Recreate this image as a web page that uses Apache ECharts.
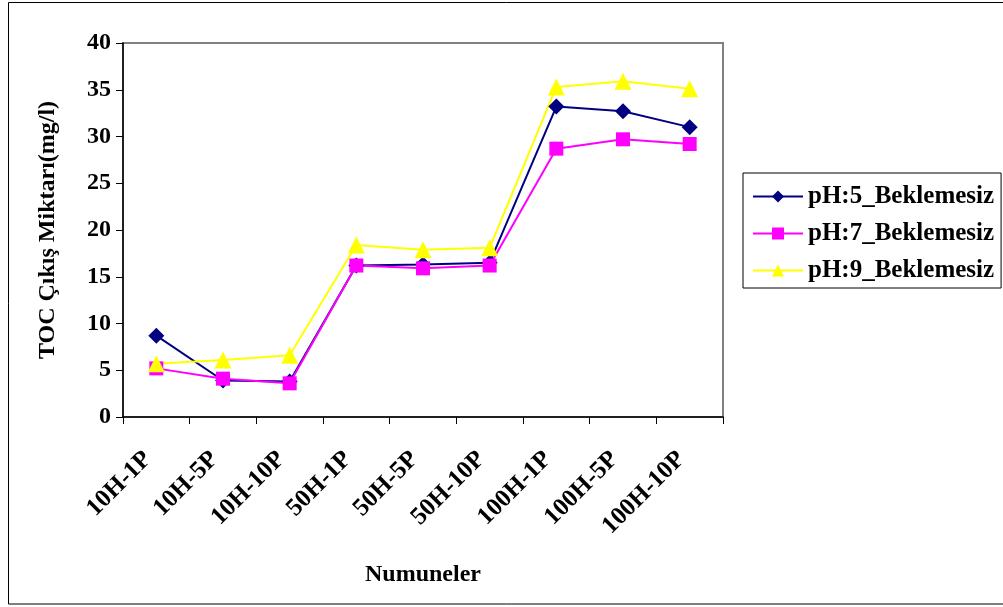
<!DOCTYPE html>
<html>
<head>
<meta charset="utf-8">
<script src="https://cdn.jsdelivr.net/npm/echarts@6/dist/echarts.min.js"></script>
<style>
html,body{margin:0;padding:0;background:#fff;}
#chart{width:1003px;height:607px;}
</style>
</head>
<body>
<div id="chart"></div>
<script>
var categories = ['10H-1P','10H-5P','10H-10P','50H-1P','50H-5P','50H-10P','100H-1P','100H-5P','100H-10P'];
var seriesNames = ['pH:5_Beklemesiz','pH:7_Beklemesiz','pH:9_Beklemesiz'];
var ph5 = [8.7, 3.9, 3.8, 16.2, 16.3, 16.5, 33.2, 32.7, 31.0];
var ph7 = [5.2, 4.1, 3.6, 16.2, 15.9, 16.2, 28.7, 29.7, 29.2];
var ph9 = [5.7, 6.1, 6.6, 18.4, 17.9, 18.1, 35.3, 35.9, 35.1];
var yTitle = 'TOC Çıkış Miktarı(mg/l)';
var xTitle = 'Numuneler';

var FONT = '"Liberation Serif","Times New Roman",serif';
var chart = echarts.init(document.getElementById('chart'), null, {renderer:'canvas'});
function mk(name, data, color, symbol, size){
  return {
    name: name, type: 'line', data: data,
    symbol: symbol, symbolSize: size,
    lineStyle: {color: color, width: 2},
    itemStyle: {color: color},
    animation: false
  };
}
chart.setOption({
  animation: false,
  backgroundColor: '#ffffff',
  graphic: [{
    type: 'rect', shape: {x: 8.5, y: 2.5, width: 1000, height: 601.5},
    style: {fill: 'none', stroke: '#000', lineWidth: 1}, silent: true, z: -1
  }],
  grid: {left: 123, top: 43, width: 600, height: 374, show: true, borderColor: '#808080', borderWidth: 2, backgroundColor: 'transparent'},
  legend: {
    orient: 'vertical', left: 743, top: 173,
    borderColor: '#000', borderWidth: 1, padding: [11, 7, 5, 9],
    itemWidth: 50, itemHeight: 15, itemGap: 12,
    textStyle: {fontFamily: FONT, fontWeight: 'bold', fontSize: 25, color: '#000'},
    data: seriesNames
  },
  xAxis: {
    type: 'category', data: categories, boundaryGap: true,
    name: xTitle, nameLocation: 'middle', nameGap: 146,
    nameTextStyle: {fontFamily: FONT, fontWeight: 'bold', fontSize: 24, color: '#000'},
    axisLine: {lineStyle: {color: '#000', width: 1.5}},
    axisTick: {show: true, length: 7, lineStyle: {color: '#000'}, alignWithLabel: false},
    axisLabel: {interval: 0, rotate: 45, margin: 30, padding: [0, 12, 0, 0],
      fontFamily: FONT, fontWeight: 'bold', fontSize: 25, color: '#000'},
    splitLine: {show: false}
  },
  yAxis: {
    type: 'value', min: 0, max: 40, interval: 5,
    name: yTitle, nameLocation: 'middle', nameGap: 63, nameRotate: 90,
    nameTextStyle: {fontFamily: FONT, fontWeight: 'bold', fontSize: 24, color: '#000'},
    axisLine: {show: true, lineStyle: {color: '#000', width: 1.5}},
    axisTick: {show: true, length: 7, lineStyle: {color: '#000'}},
    axisLabel: {margin: 12, fontFamily: FONT, fontWeight: 'bold', fontSize: 24, color: '#000'},
    splitLine: {show: false}
  },
  series: [
    mk(seriesNames[0], ph5, '#000080', 'diamond', 16),
    mk(seriesNames[1], ph7, '#FF00FF', 'rect', 14),
    mk(seriesNames[2], ph9, '#FFFF00', 'triangle', 17)
  ]
});
</script>
</body>
</html>
